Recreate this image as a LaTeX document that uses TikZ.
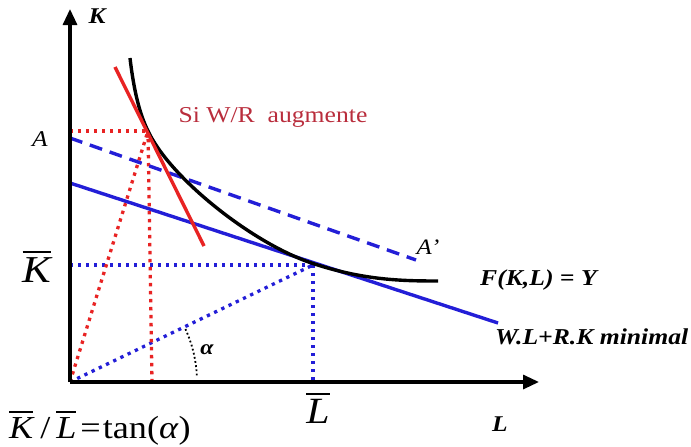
\documentclass[tikz,border=0pt]{standalone}
\usepackage{fontspec}
\setmainfont[FakeStretch=1.13]{Liberation Serif}
\usetikzlibrary{arrows.meta}
\definecolor{myblue}{RGB}{35,30,215}
\definecolor{myred}{RGB}{232,35,35}
\definecolor{txtred}{RGB}{185,45,60}
\newcommand{\ovl}[2][3pt]{\vbox{\hrule height 1.8pt\kern#1\hbox{#2}}}
\newcommand{\fs}[1]{\fontsize{#1}{#1}\selectfont}
\begin{document}
\begin{tikzpicture}[x=1pt,y=-1pt,
  axis/.style={line width=3.2pt,-{Triangle[length=16pt,width=14pt]}},
  solidline/.style={line width=3.4pt},
  dotline/.style={line width=3.3pt,dash pattern=on 3.3pt off 4.7pt},
  dashline/.style={line width=3.4pt,dash pattern=on 13pt off 8pt},
  lbl/.style={inner sep=0pt}]
\useasboundingbox (0,0) rectangle (691,447);
% coordinates
\coordinate (O) at (70,382);
\coordinate (Ytop) at (70,9);
\coordinate (Xend) at (539,382);
\coordinate (T) at (313,265);
\coordinate (Tc) at (313,263.5);
\coordinate (Tk) at (70,265);
\coordinate (Tl) at (313,382);
\coordinate (R) at (148,131);
\coordinate (Rk) at (70,131);
\coordinate (Rl) at (152,382);
\coordinate (B1) at (70,183);
\coordinate (B2) at (498,323);
\coordinate (D1) at (70,138);
\coordinate (D2) at (416,260);
\coordinate (S1) at (115,67);
\coordinate (S2) at (204,246);
\coordinate (C0) at (130,58);
\coordinate (C3) at (438,281);
% dotted guides
\draw[dotline,myblue] (Tk) -- (T);
\draw[dotline,myblue] (T) -- (Tl);
\draw[dotline,myblue] (O) -- (T);
\draw[dotline,myred] (Rk) -- (R);
\draw[dotline,myred] (R) -- (Rl);
\draw[dotline,myred] (O) -- (R);
% angle arc
\draw[line width=1.8pt,dash pattern=on 1.8pt off 2.4pt] ([shift={(-3:127)}]O) arc[start angle=-3,end angle=-25,radius=127];
% budget lines
\draw[solidline,myblue] (B1) -- (B2);
\draw[dashline,myblue] (D1) -- (D2);
% isoquant
\draw[solidline,black] (C0) .. controls (134,92) and (140,115) .. (R)
  .. controls (170,178) and (253,243.9) .. (Tc)
  .. controls (363,279.9) and (400,281) .. (C3);
% red tangent
\draw[solidline,myred] (S1) -- (S2);
% axes
\draw[axis] (O) -- (Ytop);
\draw[axis] (O) -- (Xend);
% labels
\node[lbl,font=\bfseries\itshape\fs{22.5}] (lK) at (97,16) {K};
\node[lbl,font=\bfseries\itshape\fs{22.5}] (lL) at (500,424) {L};
\node[lbl,font=\itshape\fs{22.5}] (lA) at (40,139) {A};
\node[lbl,font=\itshape\fs{22}] (lA2) at (428,247) {A’};
\node[lbl,font=\itshape\fs{38},anchor=base] (lKb) at (37,282) {\ovl[4pt]{K}};
\node[lbl,font=\itshape\fs{37},anchor=base] (lLb) at (318,423) {\ovl[4pt]{L}};
\node[lbl,font=\fs{32},anchor=base west] (lf) at (9,438) {\ovl[4pt]{\itshape K}\hspace{7pt}/\hspace{6pt}\ovl[4pt]{\itshape L}\hspace{4pt}=\hspace{2pt}tan(\textit{α})};
\node[lbl,font=\bfseries\itshape\fs{21}] (la) at (207,350) {α};
\node[lbl,font=\fs{22.7},text=txtred] (lr) at (273,117) {Si W/R\ \ augmente};
\node[lbl,font=\bfseries\itshape\fs{22.7},anchor=west] (lF) at (480,280) {F(K,L) = Y};
\node[lbl,font=\bfseries\itshape\fs{22.7},anchor=west] (lW) at (495,337) {W.L+R.K minimal};
\end{tikzpicture}
\end{document}
